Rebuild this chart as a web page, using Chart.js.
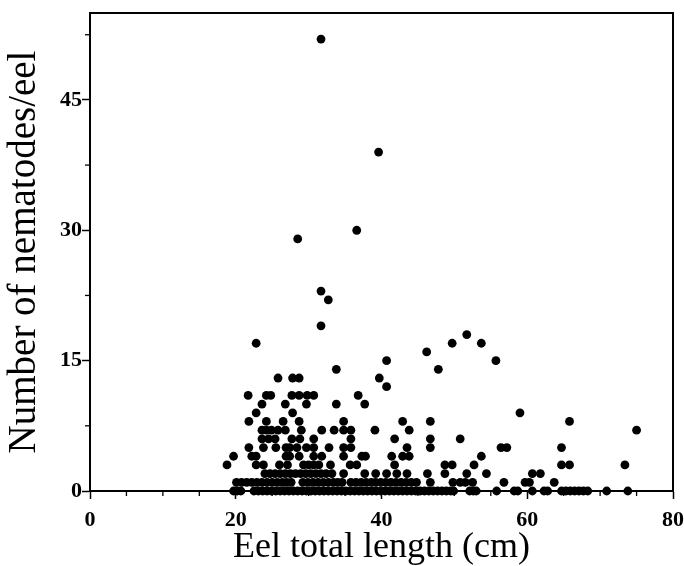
<!DOCTYPE html>
<html><head><meta charset="utf-8">
<script src="https://cdn.jsdelivr.net/npm/chart.js@4.4.1/dist/chart.umd.min.js"></script>
<style>html,body{margin:0;padding:0;background:#fff}canvas{display:block}</style>
</head><body>
<canvas id="c" width="684" height="566"></canvas>
<script>
// Eel total length (cm) for each nematode count (0..11)
const len0 = [19.7, 20.2, 20.7, 22.5, 23.1, 23.7, 24.3, 24.9, 25.5, 26.1, 26.7, 27.3, 27.9, 28.5, 29.1, 29.7, 30.3, 30.9, 31.5, 32.1, 32.7, 33.3, 33.9, 34.5, 35.1, 35.7, 36.3, 36.9, 37.5, 38.1, 38.7, 39.3, 39.9, 40.5, 41.1, 41.7, 42.3, 42.9, 43.5, 44.1, 44.7, 45.3, 45.9, 46.5, 47.1, 47.7, 48.3, 48.9, 49.5, 49.9, 52.1, 52.6, 53.0, 55.8, 58.2, 58.7, 60.7, 62.3, 62.8, 64.7, 65.3, 65.9, 66.5, 67.1, 67.7, 68.3, 70.9, 73.8];
const len1 = [20.1, 20.8, 21.5, 22.2, 22.9, 23.6, 24.3, 25.0, 25.7, 26.4, 27.0, 27.6, 29.2, 29.9, 30.6, 31.3, 32.0, 32.7, 33.4, 34.0, 34.6, 35.8, 36.5, 37.2, 37.9, 38.6, 39.2, 39.9, 40.6, 41.3, 42.0, 42.7, 43.4, 44.1, 44.8, 46.7, 49.8, 50.8, 51.5, 52.5, 56.8, 59.7, 60.3, 63.7];
const len2 = [24.0, 24.7, 25.4, 26.1, 26.8, 27.5, 28.2, 28.9, 29.6, 30.3, 31.0, 31.7, 32.4, 33.2, 34.8, 37.7, 39.2, 40.7, 42.1, 43.5, 46.3, 48.7, 51.7, 54.4, 60.7, 61.8];
const len3 = [18.8, 22.8, 23.8, 26.0, 27.1, 29.3, 30.0, 30.7, 31.4, 33.0, 35.7, 36.6, 41.8, 48.7, 49.7, 52.7, 64.7, 65.8, 73.4];
const len4 = [19.7, 22.2, 22.8, 26.9, 27.4, 28.7, 30.7, 31.8, 34.8, 37.3, 37.8, 41.4, 42.9, 43.8, 53.7];
const len5 = [21.8, 23.8, 25.5, 26.9, 27.4, 28.4, 29.7, 30.7, 32.8, 34.8, 35.8, 43.5, 46.7, 56.4, 57.2, 64.7];
const len6 = [23.6, 24.5, 25.4, 27.7, 28.8, 30.7, 35.8, 41.8, 46.7, 50.8];
const len7 = [23.6, 24.2, 24.9, 25.8, 26.8, 29.0, 31.8, 33.5, 34.8, 35.8, 39.1, 43.8, 75.0];
const len8 = [21.8, 24.2, 26.5, 28.7, 34.8, 42.9, 46.7, 65.8];
const len9 = [22.8, 27.8, 59.0];
const len10 = [23.6, 26.8, 29.7, 33.8, 37.7];
const len11 = [21.7, 24.2, 24.8, 27.7, 28.7, 29.8, 30.7, 36.8];
// higher counts
const lenHigh =   [40.7, 25.8, 27.8, 28.7, 39.7, 33.8, 47.8, 40.7, 55.7, 46.2, 22.8, 49.7, 53.7, 51.7, 31.7, 32.7, 31.7, 28.5, 36.6, 39.6, 31.7];
const countHigh = [12,   13,   13,   13,   13,   14,   14,   15,   15,   16,   17,   17,   17,   18,   19,   22,   23,   29,   30,   39,   52];

const xMajorTicks = [0, 20, 40, 60, 80];
const xMinorTicks = [5, 10, 15, 25, 30, 35, 45, 50, 55, 65, 70, 75];
const yMajorTicks = [0, 15, 30, 45];
const yMinorTicks = [7.5, 22.5, 37.5, 52.5];

const rows = [len0, len1, len2, len3, len4, len5, len6, len7, len8, len9, len10, len11];
const points = [];
rows.forEach((arr, count) => arr.forEach(x => points.push({x: x, y: count})));
lenHigh.forEach((x, i) => points.push({x: x, y: countHigh[i]}));

const framePlugin = {
  id: 'frame',
  beforeDatasetsDraw(chart) {
    const {ctx, chartArea: a, scales} = chart;
    ctx.save();
    ctx.strokeStyle = '#000';
    ctx.lineWidth = 2;
    ctx.beginPath();
    ctx.moveTo(a.left, a.top);
    ctx.lineTo(a.right, a.top);
    ctx.lineTo(a.right, a.bottom);
    ctx.stroke();
    ctx.lineWidth = 1.3;
    xMinorTicks.forEach(v => {
      const px = scales.x.getPixelForValue(v);
      ctx.beginPath(); ctx.moveTo(px, a.bottom); ctx.lineTo(px, a.bottom + 5); ctx.stroke();
    });
    yMinorTicks.forEach(v => {
      const py = scales.y.getPixelForValue(v);
      ctx.beginPath(); ctx.moveTo(a.left, py); ctx.lineTo(a.left - 5, py); ctx.stroke();
    });
    ctx.restore();
  }
};

const tickFont = {family: 'Liberation Serif', size: 22, weight: 'bold'};

new Chart(document.getElementById('c'), {
  type: 'scatter',
  data: {
    datasets: [{
      data: points,
      pointRadius: 4.4,
      pointBackgroundColor: '#000',
      pointBorderWidth: 0,
      borderWidth: 0,
      clip: false
    }]
  },
  options: {
    responsive: false,
    animation: false,
    events: [],
    devicePixelRatio: 1,
    layout: {padding: {top: 13, right: 11, left: 0, bottom: 0}},
    plugins: {legend: {display: false}, tooltip: {enabled: false}},
    scales: {
      x: {
        type: 'linear', min: 0, max: 80,
        afterBuildTicks: s => { s.ticks = xMajorTicks.map(v => ({value: v})); },
        afterFit: s => { s.height = 75; s.paddingRight = 0; s.paddingLeft = 0; },
        ticks: {font: tickFont, color: '#000', padding: 8, maxRotation: 0},
        grid: {drawOnChartArea: false, tickLength: 8, tickColor: '#000', tickWidth: 1.5},
        border: {display: true, color: '#000', width: 2},
        title: {display: true, text: 'Eel total length (cm)', font: {family: 'Liberation Serif', size: 36, lineHeight: 1.0}, color: '#000', padding: {top: 0, bottom: 0}}
      },
      y: {
        type: 'linear', min: 0, max: 55,
        afterBuildTicks: s => { s.ticks = yMajorTicks.map(v => ({value: v})); },
        afterFit: s => { s.width = 90; s.paddingTop = 0; s.paddingBottom = 0; },
        ticks: {font: tickFont, color: '#000', padding: 0},
        grid: {drawOnChartArea: false, tickLength: 8, tickColor: '#000', tickWidth: 1.5},
        border: {display: true, color: '#000', width: 2},
        title: {display: true, text: 'Number of nematodes/eel', font: {family: 'Liberation Serif', size: 39, lineHeight: 1.1}, color: '#000', padding: {top: 3, bottom: 0}}
      }
    }
  },
  plugins: [framePlugin]
});
</script>
</body></html>
